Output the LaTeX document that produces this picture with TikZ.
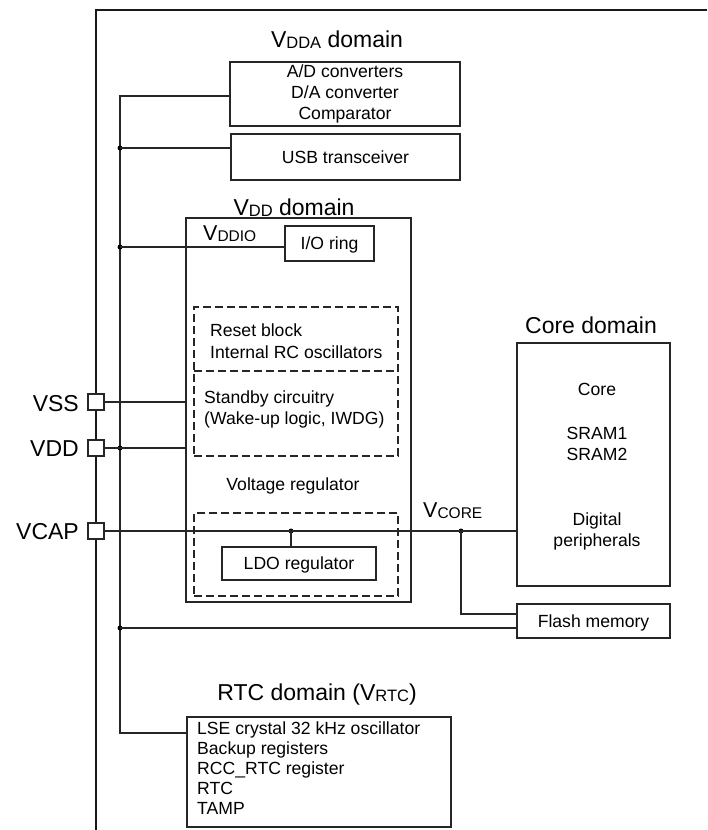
\documentclass[tikz,border=0pt]{standalone}
\usepackage{fontspec}
\setmainfont{Liberation Sans}
\newcommand\txs{\fontsize{17.6}{21}\selectfont}
\newcommand\txl{\fontsize{23}{26}\selectfont}
\newcommand\txm{\fontsize{21.5}{24}\selectfont}
\newcommand\subcap[1]{\raisebox{-1.2pt}{\fontsize{16.5}{17}\selectfont #1}}
\newcommand\subcapm[1]{\raisebox{-1.2pt}{\fontsize{15.5}{16}\selectfont #1}}
\begin{document}
\begin{tikzpicture}[x=1pt,y=-1pt,
  ln/.style={draw=black!85, line width=1.25pt},
  chip/.style={draw=black!90, line width=1.5pt},
  box/.style={draw=black!85, line width=1.25pt, inner sep=0pt, font=\txs},
  onel/.style={text height=12.6pt, text depth=0pt},
  dbox/.style={draw=black!85, line width=1.25pt, dash pattern=on 8pt off 4pt},
  dot/.style={circle, fill=black, inner sep=0pt, minimum size=5pt},
  pin/.style={draw=black!85, line width=1.25pt, fill=white, minimum size=16pt, inner sep=0pt},
  sm/.style={font=\txs, inner sep=0pt},
  big/.style={font=\txl, inner sep=0pt},
  mid/.style={font=\txm, inner sep=0pt}]
\useasboundingbox (0,0) rectangle (707,830);

% chip boundary
\coordinate (ctr) at (707,10);
\coordinate (ctl) at (96,10);
\coordinate (cbl) at (96,830);
\draw[chip] (ctr) -- (ctl) -- (cbl);

% VDDA domain
\node[big, anchor=base] (tvdda) at (337,47) {V\subcap{DDA} domain};
\node[box, minimum width=230pt, minimum height=64pt, align=center] (vdda) at (345,94) {A/D converters\\D/A converter\\Comparator};
\node[box, onel, minimum width=229pt, minimum height=46pt] (usb) at (345.5,157) {USB transceiver};

% VDD domain
\node[big, anchor=base] (tvdd) at (294,215) {V\subcap{DD} domain};
\node[box, minimum width=225pt, minimum height=384pt] (vddbox) at (298.5,410) {};
\node[mid, anchor=base west] (tvddio) at (203,240) {V\subcapm{DDIO}};
\node[box, onel, minimum width=89pt, minimum height=35pt] (io) at (329.5,243.5) {I/O ring};

\node[dbox, minimum width=204pt, minimum height=149pt] (dreg) at (296,381.5) {};
\coordinate (dl) at (194,371);
\coordinate (dr) at (398,371);
\draw[dbox] (dl) -- (dr);
\node[sm, anchor=base west] (treset) at (210,336) {Reset block};
\node[sm, anchor=base west] (trc) at (210,358) {Internal RC oscillators};
\node[sm, anchor=base west] (tstb) at (204,403) {Standby circuitry};
\node[sm, anchor=base west] (twk) at (204,424) {(Wake-up logic, IWDG)};
\node[sm, anchor=base] (tvreg) at (293,490) {Voltage regulator};

\node[dbox, minimum width=204pt, minimum height=83pt] (dldo) at (296,554.5) {};
\node[box, onel, minimum width=154pt, minimum height=33pt] (ldo) at (299,563.5) {LDO regulator};

% Core domain
\node[big, anchor=base] (tcore) at (591,333) {Core domain};
\node[box, minimum width=153pt, minimum height=243pt] (core) at (593.5,464.5) {};
\node[sm, anchor=base] (tc1) at (597,395) {Core};
\node[sm, anchor=base] (tc2) at (597,439) {SRAM1};
\node[sm, anchor=base] (tc3) at (597,460) {SRAM2};
\node[sm, anchor=base] (tc4) at (597,525) {Digital};
\node[sm, anchor=base] (tc5) at (597,546) {peripherals};
\node[box, onel, minimum width=153pt, minimum height=34pt] (flash) at (593.5,621) {Flash memory};
\node[mid, anchor=base west] (tvcore) at (423,517) {V\subcapm{CORE}};

% RTC domain
\node[big, anchor=base] (trtc) at (317,700) {RTC domain (V\subcap{RTC})};
\node[box, minimum width=264pt, minimum height=110pt] (rtc) at (319,772) {};
\node[sm, anchor=base west] (tr1) at (197,734) {LSE crystal 32 kHz oscillator};
\node[sm, anchor=base west] (tr2) at (197,754) {Backup registers};
\node[sm, anchor=base west] (tr3) at (197,774) {RCC\_RTC register};
\node[sm, anchor=base west] (tr4) at (197,794) {RTC};
\node[sm, anchor=base west] (tr5) at (197,814) {TAMP};

% pins
\node[pin] (pvss) at (96,402) {};
\node[pin] (pvdd) at (96,448) {};
\node[pin] (pvcap) at (96,531) {};
\node[big, anchor=base east] (lvss) at (79,411) {VSS};
\node[big, anchor=base east] (lvdd) at (79,456) {VDD};
\node[big, anchor=base east] (lvcap) at (79,539) {VCAP};

% bus
\coordinate (btop) at (120,96);
\coordinate (bbot) at (120,733);
\draw[ln] (btop -| vdda.west) -- (btop) -- (bbot) -- (bbot -| rtc.west);

% junction dots
\node[dot] (j1) at (120,148) {};
\node[dot] (j2) at (120,247) {};
\node[dot] (j3) at (120,448) {};
\node[dot] (j4) at (120,628) {};
\node[dot] (j5) at (291,531) {};
\node[dot] (j6) at (461,531) {};
\coordinate (fk) at (461,614);

\draw[ln] (j1.center) -- (j1.center -| usb.west);
\draw[ln] (j2.center) -- (j2.center -| io.west);
\draw[ln] (pvss.east) -- (pvss.east -| vddbox.west);
\draw[ln] (pvdd.east) -- (pvdd.east -| vddbox.west);
\draw[ln] (pvcap.east) -- (pvcap.east -| core.west);
\draw[ln] (j5.center) -- (j5.center |- ldo.north);
\draw[ln] (j6.center) -- (fk) -- (fk -| flash.west);
\draw[ln] (j4.center) -- (j4.center -| flash.west);
\end{tikzpicture}
\end{document}
